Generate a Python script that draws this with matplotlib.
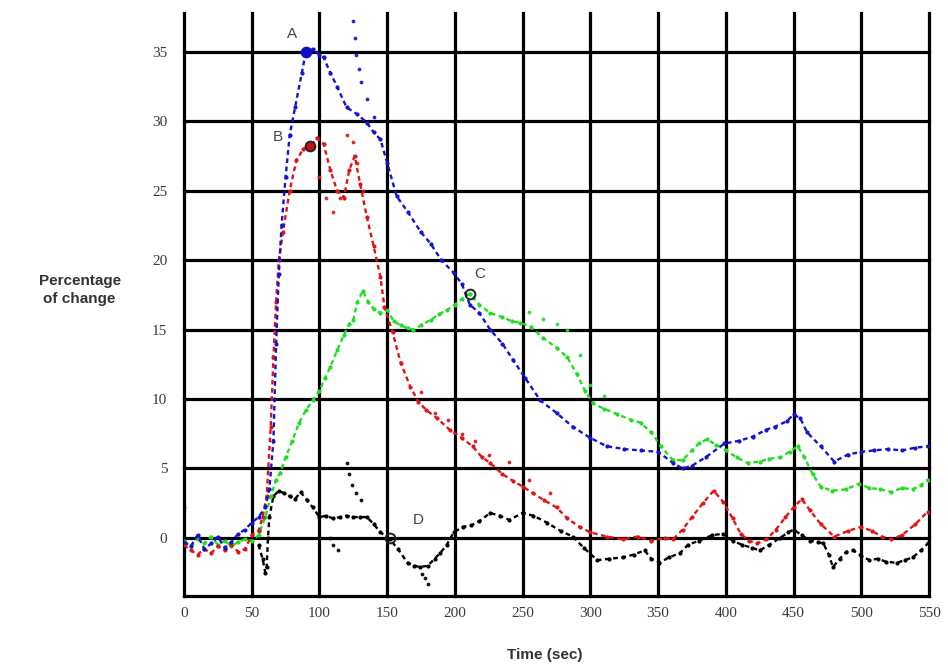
import numpy as np
import matplotlib.pyplot as plt

# ---- data (time in sec, % change) ----
blue_x = [0, 5, 10, 15, 20, 25, 30, 35, 40, 45,
          50, 55, 60, 63, 66, 68, 70, 72, 75, 78,
          82, 87, 90, 95, 100, 103, 108, 113, 120, 128,
          135, 140, 145, 150, 157, 165, 175, 182, 190, 199,
          205, 211, 218, 226, 235, 243, 252, 263, 275, 287,
          300, 312, 325, 337, 350, 361, 368, 375, 385, 399,
          410, 420, 430, 436, 445, 450, 455, 460, 470, 480,
          490, 500, 509, 520, 530, 540, 549]
blue_y = [-0.3, -0.6, 0.2, -0.8, -0.4, 0.1, -0.7, -0.3, 0.3, 0.6,
          1.1, 1.5, 2.2, 3.5, 7.0, 14.0, 19.0, 22.5, 26.0, 29.0,
          31.0, 33.5, 35.0, 35.2, 34.8, 34.6, 33.5, 32.5, 31.0, 30.5,
          29.9, 29.2, 28.7, 27.0, 24.6, 23.5, 22.0, 21.2, 20.0, 19.1,
          18.3, 16.8, 16.2, 15.0, 14.0, 12.8, 11.5, 9.9, 9.0, 8.0,
          7.2, 6.6, 6.4, 6.3, 6.2, 5.4, 5.0, 5.2, 5.8, 6.8,
          7.0, 7.3, 7.8, 8.0, 8.4, 8.9, 8.6, 7.6, 6.6, 5.5,
          6.0, 6.2, 6.3, 6.4, 6.3, 6.5, 6.6]
blue_sx = [125, 126, 127, 129, 131, 135, 140]
blue_sy = [37.2, 36.0, 34.8, 33.8, 32.8, 31.6, 30.3]

red_x = [0, 5, 10, 15, 20, 25, 30, 35, 40, 45,
         50, 55, 58, 61, 64, 66, 68, 70, 73, 78,
         83, 88, 93, 98, 103, 108, 113, 118, 122, 126,
         130, 135, 140, 145, 148, 154, 160, 167, 173, 179,
         187, 196, 205, 213, 220, 226, 235, 243, 250, 258,
         266, 275, 283, 292, 300, 312, 324, 335, 345, 355,
         361, 368, 375, 383, 391, 398, 405, 411, 417, 423,
         430, 437, 444, 450, 456, 462, 470, 480, 490, 500,
         508, 515, 522, 530, 540, 549]
red_y = [-0.5, -0.9, -1.2, -0.8, -1.1, -0.6, -0.9, -0.5, -1.0, -0.8,
         0.2, 0.5, 1.5, 3.0, 8.0, 13.0, 17.0, 20.0, 22.0, 25.0,
         27.2, 28.0, 28.2, 28.8, 28.4, 26.5, 25.0, 24.5, 26.5, 27.5,
         25.5, 23.1, 21.0, 18.8, 16.6, 14.8, 12.6, 10.9, 9.8, 9.2,
         8.6, 7.8, 7.2, 6.6, 5.8, 5.4, 4.6, 4.1, 3.7, 3.2,
         2.7, 2.2, 1.4, 0.8, 0.4, 0.1, -0.1, 0.1, -0.2, 0.0,
         -0.1, 0.6, 1.5, 2.5, 3.4, 2.6, 1.4, 0.3, -0.2, -0.4,
         -0.1, 0.6, 1.5, 2.2, 2.8, 2.0, 1.0, 0.1, 0.5, 0.8,
         0.5, 0.1, -0.1, 0.2, 1.0, 1.9]
red_sx = [100, 105, 110, 115, 120, 125, 128, 132, 175, 185, 195, 205, 215, 225, 240, 255, 270]
red_sy = [26.0, 24.5, 23.5, 24.5, 29.0, 28.5, 27.0, 25.0, 10.5, 9.0, 8.5, 7.5, 7.0, 6.0, 5.5, 4.2, 3.2]

green_x = [0, 5, 10, 15, 20, 25, 30, 35, 40, 45,
           50, 55, 60, 64, 68, 71, 75, 80, 85, 90,
           95, 100, 104, 108, 113, 118, 122, 125, 128, 132,
           136, 140, 145, 150, 155, 160, 165, 169, 175, 182,
           188, 194, 200, 205, 211, 218, 226, 235, 242, 248,
           256, 265, 275, 283, 290, 296, 302, 310, 320, 330,
           337, 345, 352, 361, 368, 375, 380, 386, 393, 400,
           408, 416, 425, 432, 440, 447, 453, 458, 464, 470,
           478, 489, 498, 506, 514, 522, 530, 538, 544, 549]
green_y = [-0.2, -0.6, -0.1, -0.4, 0.1, -0.5, -0.2, -0.6, -0.3, -0.1,
           -0.2, 0.2, 1.5, 3.0, 4.2, 4.7, 5.8, 7.0, 8.3, 9.2,
           9.9, 10.6, 11.5, 12.3, 13.5, 14.6, 15.4, 15.7, 17.0, 17.8,
           17.0, 16.5, 16.2, 16.4, 15.6, 15.3, 15.1, 15.0, 15.3, 15.7,
           16.1, 16.4, 16.8, 17.2, 17.6, 16.8, 16.2, 15.9, 15.6, 15.5,
           15.2, 14.4, 13.7, 13.0, 11.8, 10.6, 9.7, 9.3, 8.9, 8.5,
           8.3, 7.6, 6.6, 5.6, 5.6, 6.3, 6.8, 7.1, 6.7, 6.3,
           5.8, 5.4, 5.5, 5.7, 5.8, 6.2, 6.6, 5.8, 4.6, 3.7,
           3.4, 3.5, 3.9, 3.6, 3.5, 3.3, 3.6, 3.5, 3.8, 4.2]
green_sx = [255, 265, 275, 283, 292, 300, 310]
green_sy = [16.3, 15.8, 15.4, 15.0, 13.2, 11.0, 10.2]

black_x = [55, 58, 60, 61, 62, 63, 66, 70, 74, 78,
           82, 86, 91, 95, 100, 105, 110, 115, 120, 125,
           130, 135, 140, 145, 152, 158, 165, 170, 174, 180,
           185, 189, 194, 199, 206, 212, 218, 226, 233, 240,
           250, 258, 268, 278, 287, 295, 305, 314, 324, 332,
           340, 345, 351, 358, 366, 372, 380, 390, 398, 405,
           412, 419, 425, 432, 440, 446, 450, 456, 462, 468,
           472, 476, 479, 484, 489, 494, 500, 506, 512, 518,
           526, 532, 538, 544, 549]
black_y = [-0.5, -1.5, -2.5, -2.1, 0.0, 1.5, 3.0, 3.4, 3.2, 3.0,
           2.8, 3.3, 2.7, 2.2, 1.5, 1.6, 1.4, 1.5, 1.6, 1.5,
           1.5, 1.5, 1.0, 0.4, -0.1, -0.8, -1.8, -2.0, -2.1, -2.0,
           -1.5, -1.1, -0.5, 0.4, 0.8, 0.9, 1.2, 1.8, 1.6, 1.3,
           1.8, 1.6, 1.1, 0.5, 0.1, -0.7, -1.6, -1.5, -1.4, -1.2,
           -0.9, -1.5, -1.8, -1.4, -1.1, -0.5, -0.2, 0.2, 0.3, -0.2,
           -0.5, -0.7, -0.9, -0.5, 0.0, 0.4, 0.6, 0.2, -0.2, -0.3,
           -0.4, -1.2, -2.1, -1.5, -1.0, -0.9, -1.3, -1.6, -1.5, -1.7,
           -1.8, -1.6, -1.4, -0.9, -0.4]
black_sx = [0, 108, 110, 114, 120, 122, 124, 127, 131, 176, 178, 180]
black_sy = [2.2, 0.0, -0.5, -0.9, 5.4, 4.6, 3.8, 3.2, 2.7, -2.6, -2.9, -3.3]

# labelled points: label, x, y, colour, label x, label y
marks = [("A", 90, 35.0, "#1010c8", 80, 36.3),
         ("B", 93, 28.2, "#cc1111", 69, 28.9),
         ("C", 211, 17.6, "#22bb22", 218, 19.0),
         ("D", 152, 0.0, "black", 173, 1.3)]

x_ticks = list(range(0, 551, 50))
y_ticks = list(range(0, 36, 5))

series = [
    (black_x, black_y, black_sx, black_sy, "black"),
    (green_x, green_y, green_sx, green_sy, "#22dd22"),
    (red_x, red_y, red_sx, red_sy, "#e01414"),
    (blue_x, blue_y, blue_sx, blue_sy, "#1414cc"),
]

fig = plt.figure(figsize=(9.48, 6.68), dpi=100)
ax = fig.add_axes([0.1941, 0.1078, 0.7859, 0.8728])
ax.set_xlim(0, 550)
ax.set_ylim(-4.18, 37.8)

for v in x_ticks:
    ax.axvline(v, color="black", lw=2.3, clip_on=False, zorder=1)
for v in y_ticks:
    ax.axhline(v, color="black", lw=2.3, clip_on=False, zorder=1)
ax.axhline(-4.18, color="black", lw=2.3, clip_on=False, zorder=1)

for xs, ys, sx, sy, col in series:
    ax.plot(xs, ys, color=col, lw=1.7, ls=(0, (2, 1.5)), marker=".",
            ms=4, zorder=3)
    ax.plot(sx, sy, color=col, lw=0, marker=".", ms=3.5, alpha=0.85, zorder=3)

for lab, mx, my, col, lx, ly in marks:
    face = col if lab in ("A", "B") else "none"
    ax.plot(mx, my, marker="o", ms=7, mfc=face, mec="#222222" if lab != "A" else col,
            mew=1.4, zorder=4)
    ax.text(lx, ly, lab, fontsize=11, color="#444444", ha="center", va="center",
            family="Liberation Sans", zorder=5)

for s in ax.spines.values():
    s.set_visible(False)

ax.set_xticks(x_ticks)
ax.set_yticks(y_ticks)
ax.tick_params(length=0, labelsize=11, colors="#3a3a3a")
ax.tick_params(axis="y", pad=12)
ax.tick_params(axis="x", pad=8)
for t in ax.get_xticklabels() + ax.get_yticklabels():
    t.set_family("Liberation Serif")

fig.text(0.084, 0.566, "Percentage\nof change", ha="center", va="center",
         fontsize=11, fontweight="bold", color="#333333", family="Liberation Sans",
         linespacing=1.4)
fig.text(0.575, 0.019, "Time (sec)", ha="center", va="center",
         fontsize=11, fontweight="bold", color="#333333", family="Liberation Sans")

fig.savefig("out.png", dpi=100)
